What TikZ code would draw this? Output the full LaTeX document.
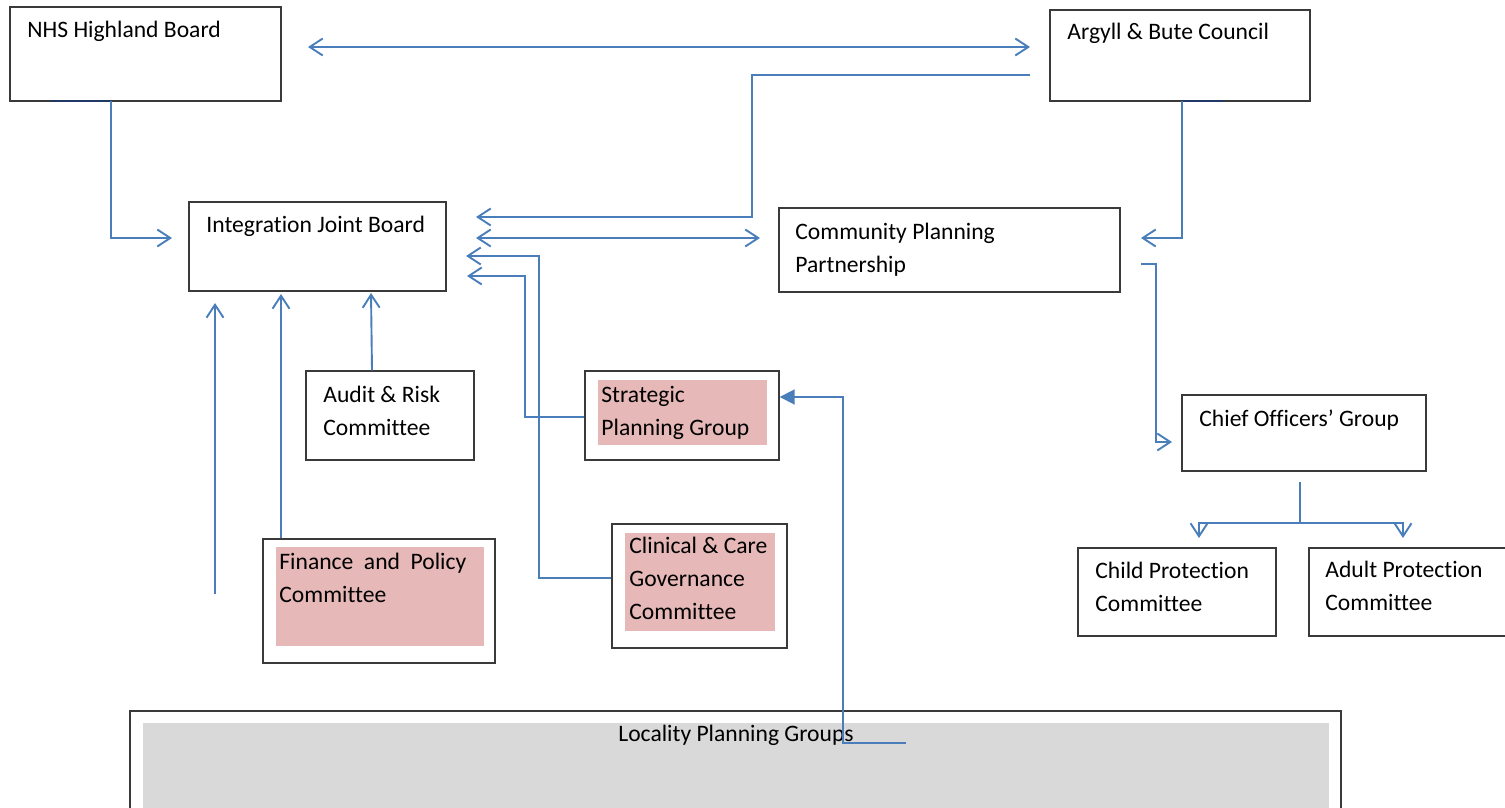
\documentclass[tikz,border=0pt]{standalone}
\usepackage{fontspec}
\setmainfont{Carlito}[Ligatures=NoCommon]
\usetikzlibrary{arrows.meta,fit}
\definecolor{lnk}{HTML}{4A7EBB}
\definecolor{pinkf}{HTML}{E6B8B7}
\definecolor{grayf}{HTML}{D9D9D9}
\definecolor{edgec}{HTML}{3A3A3A}
\definecolor{navyc}{HTML}{1F3864}
\tikzset{
  barb/.tip={Straight Barb[length=6.5pt,width=8.5pt]},
  tri/.tip={Triangle[length=7.5pt,width=7.5pt]},
}
\begin{document}
\begin{tikzpicture}[x=0.5pt,y=-0.5pt,
  box/.style={draw=edgec,line width=0.7pt,inner sep=0pt,fill=white},
  pinkbox/.style={fill=pinkf,draw=none,inner sep=0pt},
  graybox/.style={fill=grayf,draw=none,inner sep=0pt},
  txt/.style={anchor=base west,inner sep=0pt,align=left,font=\fontsize{11.8}{16.3}\selectfont},
  link/.style={draw=lnk,line width=0.95pt},
  navyseg/.style={draw=navyc,line width=0.9pt}]
\useasboundingbox (0,0) rectangle (1505,808);
\clip (0,0) rectangle (1505,808);
% boxes
\node[box,fit={(10,7)(281,101)}] (nhs) {};
\node[box,fit={(1050,10)(1310,101)}] (abc) {};
\node[box,fit={(189,202)(446,291)}] (ijb) {};
\node[box,fit={(779,208)(1120,292)}] (cpp) {};
\node[box,fit={(306,371)(474,460)}] (arc) {};
\node[box,fit={(585,371)(779,460)}] (spg) {};
\node[pinkbox,fit={(598,380)(767,445)}] (spgf) {};
\node[box,fit={(263,539)(495,663)}] (fpc) {};
\node[pinkbox,fit={(276,547)(484,646)}] (fpcf) {};
\node[box,fit={(612,524)(787,648)}] (ccg) {};
\node[pinkbox,fit={(625,533)(775,631)}] (ccgf) {};
\node[box,fit={(1182,395)(1426,471)}] (cog) {};
\node[box,fit={(1078,548)(1276,636)}] (cpc) {};
\node[box,fit={(1309,548)(1520,636)}] (apc) {};
\node[box,fit={(130,711)(1341,830)}] (lpg) {};
\node[graybox,fit={(143,723)(1329,830)}] (lpgf) {};
% texts (base anchor = last line's baseline)
\node[txt] (t1) at (27,38) {NHS Highland Board};
\node[txt] (t2) at (1067,40) {Argyll \& Bute Council};
\node[txt] (t3) at (206,232) {Integration Joint Board};
\node[txt] (t4) at (795,272) {Community Planning\\Partnership};
\node[txt] (t5) at (323,435) {Audit \& Risk\\Committee};
\node[txt] (t6) at (601,435) {Strategic\\Planning Group};
\node[txt] (t7) at (279,602) {Finance\hspace{0.22em} and\hspace{0.22em} Policy\\Committee};
\node[txt] (t8) at (629,619) {Clinical \& Care\\Governance\\Committee};
\node[txt] (t9) at (1199,426) {Chief Officers’ Group};
\node[txt] (t10) at (1095,611) {Child Protection\\Committee};
\node[txt] (t11) at (1325,610) {Adult Protection\\Committee};
\node[txt,anchor=base] (t12) at (736,741) {Locality Planning Groups};
% dark segments on box bottoms
\draw[navyseg] (51,101) -- (111,101);
\draw[navyseg] (1182,101) -- (1224,101);
% free ends
\coordinate (p1a) at (308,47);
\coordinate (p1b) at (1030,47);
\coordinate (p2a) at (1030,75);
\coordinate (p2b) at (476,217);
\coordinate (p3a) at (476,238);
\coordinate (p3b) at (760,238);
\coordinate (p4b) at (466,256);
\coordinate (p5b) at (467,276);
\coordinate (p6a) at (111,101);
\coordinate (p6b) at (172,238);
\coordinate (p7a) at (1182,101);
\coordinate (p7b) at (1141,238);
\coordinate (p8a) at (1141,264);
\coordinate (p8b) at (1172,442);
\coordinate (p9a) at (1300,482);
\coordinate (p9j) at (1300,523);
\coordinate (p9l) at (1199,538);
\coordinate (p9r) at (1403,538);
\coordinate (p10a) at (215,594);
\coordinate (p10b) at (215,303);
\coordinate (p11b) at (281,294);
\coordinate (p12b) at (371,293);
\coordinate (p13a) at (906,743);
% connectors
\draw[link,barb-barb] (p1a) -- (p1b);
\draw[link,-barb] (p2a) -- (752,75) -- (752,217) -- (p2b);
\draw[link,barb-barb] (p3a) -- (p3b);
\draw[link,-barb] (ccg.west |- 0,578) -- (539,578) -- (539,256) -- (p4b);
\draw[link,-barb] (spg.west |- 0,417) -- (525,417) -- (525,276) -- (p5b);
\draw[link,-barb] (p6a) -- (111,238) -- (p6b);
\draw[link,-barb] (p7a) -- (1182,238) -- (p7b);
\draw[link,-barb] (p8a) -- (1156,264) -- (1156,442) -- (p8b);
\draw[link] (p9a) -- (p9j);
\draw[link,-barb] (p9j) -- (1199,523) -- (p9l);
\draw[link,-barb] (p9j) -- (1403,523) -- (p9r);
\draw[link,-barb] (p10a) -- (p10b);
\draw[link,-barb] (fpc.north -| 281,0) -- (p11b);
\draw[link,-barb] (arc.north -| 372,0) -- (p12b);
\draw[link,-tri] (p13a) -- (843,743) -- (843,397) -- (spg.east |- 0,397);
\end{tikzpicture}
\end{document}
